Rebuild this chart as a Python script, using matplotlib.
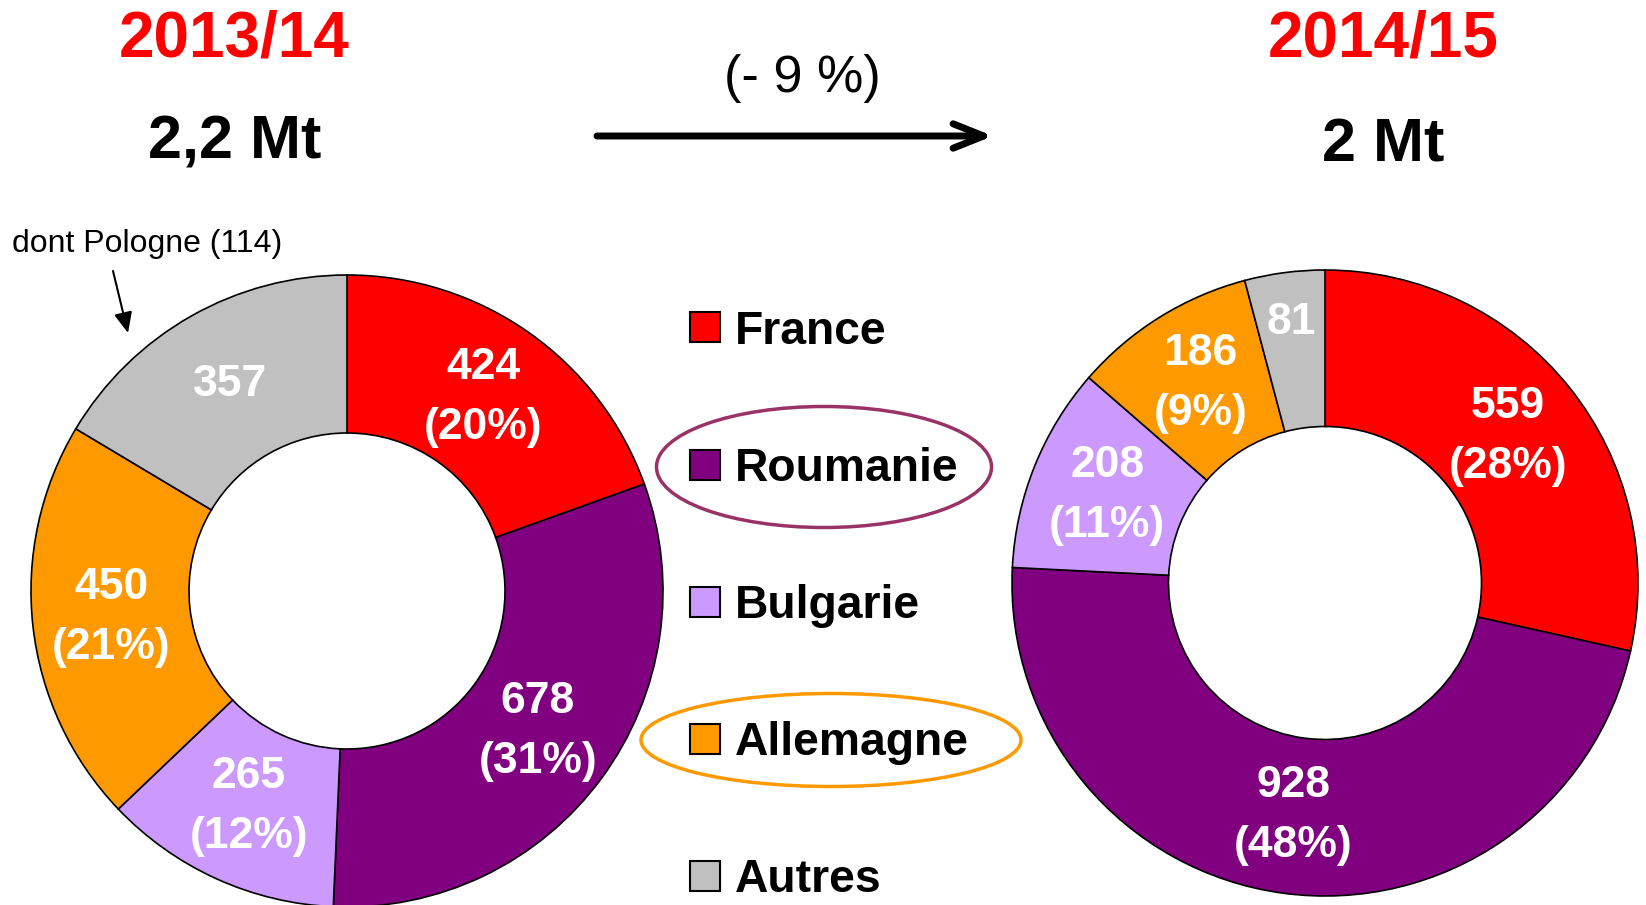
import matplotlib
matplotlib.use("Agg")
import matplotlib.pyplot as plt
import numpy as np
from matplotlib.patches import Ellipse, Rectangle

plt.rcParams['font.family'] = ['Liberation Sans', 'DejaVu Sans']

# ---------------- data ----------------
countries = ["France", "Roumanie", "Bulgarie", "Allemagne", "Autres"]
colors = ["#FF0000", "#800080", "#CC99FF", "#FF9900", "#C0C0C0"]

vals_1314 = [424, 678, 265, 450, 357]
pct_1314 = ["20%", "31%", "12%", "21%", None]
vals_1415 = [559, 928, 208, 186, 81]
pct_1415 = ["28%", "48%", "11%", "9%", None]

title_1314 = "2013/14"
total_1314 = "2,2 Mt"
title_1415 = "2014/15"
total_1415 = "2 Mt"
change_txt = "(- 9 %)"
note_txt = "dont Pologne (114)"

# ---------------- figure ----------------
W, H = 1646, 905
fig = plt.figure(figsize=(W / 100, H / 100), dpi=100)
ax = fig.add_axes([0, 0, 1, 1])


def Y(y):
    return H - y


def donut(vals, pcts, cx, cy, R, label_r=None):
    wedges, _ = ax.pie(vals, colors=colors, center=(cx, Y(cy)), radius=R,
                       startangle=90, counterclock=False, frame=True,
                       wedgeprops=dict(width=R / 2, edgecolor="black", linewidth=1.2))
    for i, (w, v, p) in enumerate(zip(wedges, vals, pcts)):
        th = np.deg2rad((w.theta1 + w.theta2) / 2)
        r = R * 0.75
        if label_r is not None and label_r[i] is not None:
            r = R * label_r[i]
        x = cx + r * np.cos(th)
        y = Y(cy) + r * np.sin(th)
        txt = f"{v}" if p is None else f"{v}\n({p})"
        ax.text(x, y, txt, ha="center", va="center", color="white",
                fontsize=32, fontweight="bold", linespacing=1.6)


donut(vals_1314, pct_1314, 347, 591, 316)
donut(vals_1415, pct_1415, 1325, 583, 313, label_r=[None, None, None, None, 0.84])

# titles
ax.text(234, Y(57), title_1314, ha="center", va="baseline", color="#FF0000",
        fontsize=46, fontweight="bold")
ax.text(235, Y(158), total_1314, ha="center", va="baseline", color="black",
        fontsize=44, fontweight="bold")
ax.text(1383, Y(57), title_1415, ha="center", va="baseline", color="#FF0000",
        fontsize=46, fontweight="bold")
ax.text(1383, Y(162), total_1415, ha="center", va="baseline", color="black",
        fontsize=44, fontweight="bold")

# change arrow
ax.text(802, Y(92), change_txt, ha="center", va="baseline", color="black", fontsize=37.5)
ax.annotate("", xy=(993, Y(136)), xytext=(597, Y(136)),
            arrowprops=dict(arrowstyle="->,head_length=0.55,head_width=0.22",
                            lw=5, color="black", mutation_scale=40,
                            shrinkA=0, shrinkB=0))

# Pologne note
ax.text(12, Y(252), note_txt, ha="left", va="baseline", color="black", fontsize=23)
ax.annotate("", xy=(128, Y(333)), xytext=(113, Y(271)),
            arrowprops=dict(arrowstyle="-|>,head_length=0.5,head_width=0.22",
                            lw=1.5, color="black", mutation_scale=25,
                            shrinkA=0, shrinkB=0))

# legend
leg_y0, leg_dy = 327.5, 137.2
for i, (name, c) in enumerate(zip(countries, colors)):
    yc = leg_y0 + i * leg_dy
    ax.add_patch(Rectangle((690, Y(yc) - 15), 30, 30, facecolor=c,
                           edgecolor="black", linewidth=1.5))
    ax.text(735, Y(yc + 16), name, ha="left", va="baseline", color="black",
            fontsize=33.3, fontweight="bold")

ax.add_patch(Ellipse((824, Y(467)), 335, 121, fill=False,
                     edgecolor="#993366", linewidth=2.5))
ax.add_patch(Ellipse((831, Y(740)), 380, 93, fill=False,
                     edgecolor="#FF9900", linewidth=2.5))

ax.set_xlim(0, W)
ax.set_ylim(0, H)
ax.set_aspect("equal")
ax.axis("off")

fig.savefig("out.png", dpi=100, facecolor="white")
